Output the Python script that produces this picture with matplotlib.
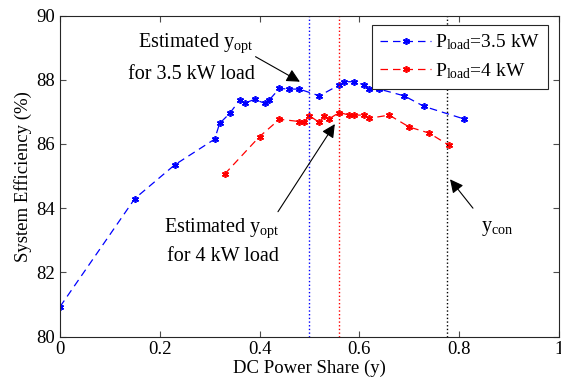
import numpy as np
import matplotlib
matplotlib.use("Agg")
import matplotlib.pyplot as plt

plt.rcParams['font.family'] = ['Liberation Serif', 'DejaVu Serif']
plt.rcParams['mathtext.fontset'] = 'custom'
plt.rcParams['mathtext.rm'] = 'Liberation Serif'
plt.rcParams['mathtext.it'] = 'Liberation Serif:italic'

# efficiency vs DC share, 3.5 kW load
y_35 = [0, 0.15, 0.23, 0.31, 0.32, 0.34, 0.36, 0.37, 0.39, 0.41, 0.42, 0.44,
        0.46, 0.48, 0.52, 0.56, 0.57, 0.59, 0.61, 0.62, 0.64, 0.69, 0.73, 0.81]
eff_35 = [80.93, 84.30, 85.35, 86.15, 86.64, 86.95, 87.36, 87.27, 87.39, 87.27, 87.38, 87.73,
          87.71, 87.71, 87.50, 87.84, 87.94, 87.94, 87.84, 87.72, 87.71, 87.50, 87.17, 86.78]

# efficiency vs DC share, 4 kW load
y_4 = [0.33, 0.40, 0.44, 0.48, 0.49, 0.50, 0.52, 0.53, 0.54, 0.56, 0.58, 0.59,
       0.61, 0.62, 0.66, 0.70, 0.74, 0.78]
eff_4 = [85.06, 86.23, 86.77, 86.70, 86.69, 86.88, 86.67, 86.87, 86.79, 86.98, 86.90, 86.90,
         86.90, 86.80, 86.90, 86.53, 86.34, 85.96]

yopt_35 = 0.5
yopt_4 = 0.56
ycon = 0.775

fig = plt.figure(figsize=(5.61, 3.90), dpi=100)
ax = fig.add_axes([0.107, 0.137, 0.889, 0.823])

star = (6, 2, 0)
ax.plot(y_35, eff_35, '--', color='b', marker=star, markersize=5, mew=1.2, lw=0.9,
        dashes=(6, 4), label=r'P$_{\rm load}$=3.5 kW')
ax.plot(y_4, eff_4, '--', color='r', marker=star, markersize=5, mew=1.2, lw=0.9,
        dashes=(6, 4), label=r'P$_{\rm load}$=4 kW')

ax.axvline(yopt_35, color='b', ls=':', lw=1)
ax.axvline(yopt_4, color='r', ls=':', lw=1)
ax.axvline(ycon, color='k', ls=':', lw=1)

arrow = dict(arrowstyle='-|>', color='k', lw=0.8, mutation_scale=20, shrinkA=0, shrinkB=0)
fs = 14.5
ax.annotate('', xy=(0.481, 87.94), xytext=(0.392, 88.72), arrowprops=arrow)
ax.text(0.273, 89.02, r'Estimated y$_{\rm opt}$', ha='center', fontsize=fs)
ax.text(0.263, 88.04, 'for 3.5 kW load', ha='center', fontsize=fs)

ax.annotate('', xy=(0.551, 86.62), xytext=(0.437, 83.89), arrowprops=arrow)
ax.text(0.324, 83.27, r'Estimated y$_{\rm opt}$', ha='center', fontsize=fs)
ax.text(0.326, 82.34, 'for 4 kW load', ha='center', fontsize=fs)

ax.annotate('', xy=(0.782, 84.9), xytext=(0.828, 84.0), arrowprops=arrow)
ax.text(0.845, 83.3, r'y$_{\rm con}$', ha='left', fontsize=fs)

ax.set_xlim(0, 1)
ax.set_ylim(80, 90)
ax.set_xticks([0, 0.2, 0.4, 0.6, 0.8, 1])
ax.set_xticklabels(['0', '0.2', '0.4', '0.6', '0.8', '1'])
ax.set_yticks([80, 82, 84, 86, 88, 90])
ax.tick_params(direction='in', top=True, right=True, labelsize=13.5, length=4, color='0.3')
for s in ax.spines.values():
    s.set_color('0.15')
    s.set_linewidth(0.8)

ax.set_xlabel('DC Power Share (y)', fontsize=13.5, labelpad=1)
ax.set_ylabel('System Efficiency (%)', fontsize=13.5, labelpad=3)

leg = ax.legend(loc='upper right', bbox_to_anchor=(0.978, 0.971), borderaxespad=0,
                fontsize=14, handlelength=2.6, numpoints=1, fancybox=False, framealpha=1,
                borderpad=0.4, labelspacing=0.45, handletextpad=0.2)
leg.get_frame().set_edgecolor('0.15')
leg.get_frame().set_linewidth(0.8)

fig.savefig('out.png', dpi=100)
